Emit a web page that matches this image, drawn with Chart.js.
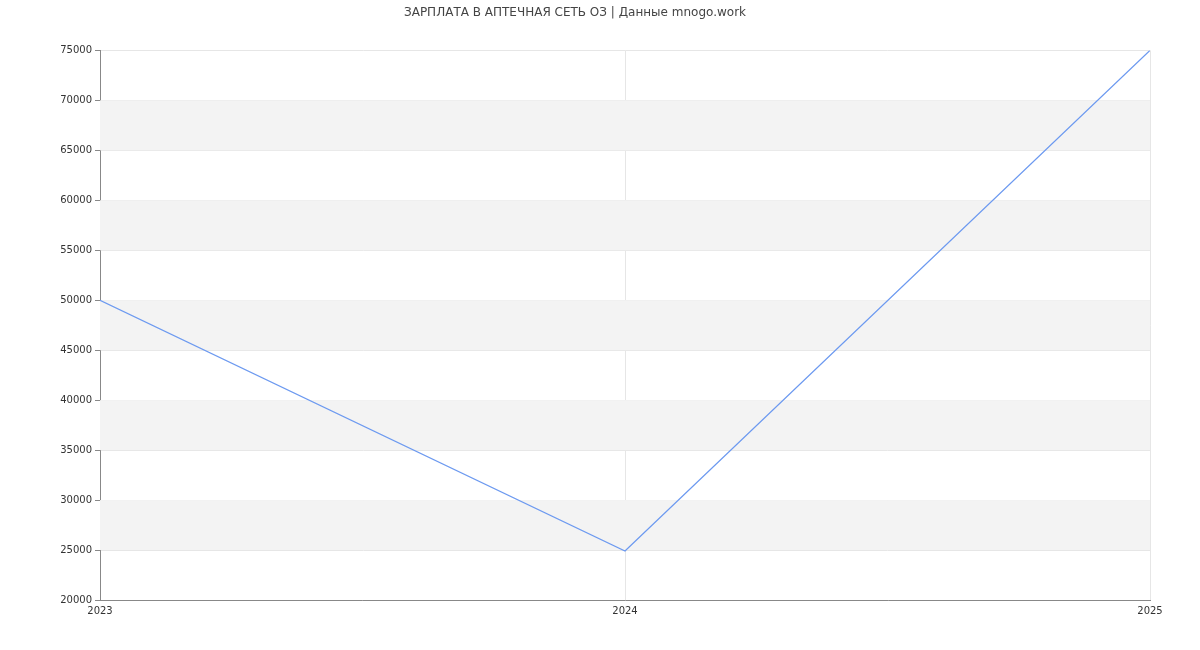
<!DOCTYPE html>
<html>
<head>
<meta charset="utf-8">
<script src="https://cdn.jsdelivr.net/npm/chart.js@4/dist/chart.umd.min.js"></script>
<style>
  html, body { margin: 0; background: #fff; }
  #wrap { width: 1200px; height: 650px; }
</style>
</head>
<body>
<div id="wrap"><canvas id="c"></canvas></div>
<script>
const years = [2023, 2024, 2025];
const salary = [50000, 24900, 75000];
const chartTitle = 'ЗАРПЛАТА В АПТЕЧНАЯ СЕТЬ ОЗ | Данные mnogo.work';

// alternating grey bands between y ticks
const bands = {
    id: 'bands',
    beforeDatasetsDraw(chart) {
        const { ctx, chartArea, scales: { y } } = chart;
        ctx.save();
        ctx.fillStyle = '#f3f3f3';
        for (let v = 25000; v < 75000; v += 10000) {
            const top = y.getPixelForValue(v + 5000);
            const bottom = y.getPixelForValue(v);
            ctx.fillRect(chartArea.left, top, chartArea.right - chartArea.left, bottom - top);
        }
        ctx.restore();
    }
};

new Chart(document.getElementById('c'), {
    type: 'line',
    data: {
        datasets: [{
            data: years.map((x, i) => ({ x, y: salary[i] })),
            borderColor: '#6d9af0',
            borderWidth: 1.3,
            pointRadius: 0,
            tension: 0,
            fill: false
        }]
    },
    options: {
        responsive: true,
        maintainAspectRatio: false,
        animation: false,
        layout: { padding: { top: 3, right: 50, bottom: 28, left: 0 } },
        scales: {
            x: {
                type: 'linear',
                min: 2023, max: 2025,
                border: { color: '#888' },
                grid: { color: '#e6e6e6', tickLength: 0 },
                ticks: { stepSize: 1, color: '#333', font: { family: 'DejaVu Sans', size: 10 }, callback: v => String(v), padding: 5 }
            },
            y: {
                min: 20000, max: 75000,
                border: { color: '#888' },
                grid: { color: '#e6e6e6', tickColor: '#888', tickLength: 5 },
                afterFit: s => { s.width = 100; },
                ticks: { stepSize: 5000, color: '#333', font: { family: 'DejaVu Sans', size: 10 }, padding: 3, callback: v => String(v) }
            }
        },
        plugins: {
            legend: { display: false },
            tooltip: { enabled: false },
            title: {
                display: true,
                text: chartTitle,
                color: '#444',
                font: { family: 'DejaVu Sans', size: 12, weight: 'normal' },
                padding: { top: 3, bottom: 30 }
            }
        }
    },
    plugins: [bands]
});
</script>
</body>
</html>
